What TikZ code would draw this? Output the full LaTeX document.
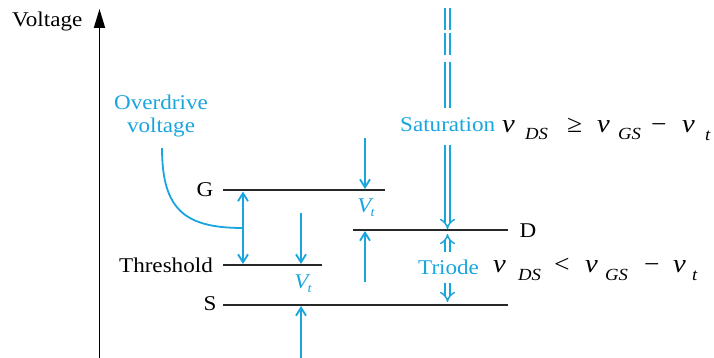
\documentclass[tikz,border=0pt]{standalone}
\usepackage{fontspec}
\setmainfont[FakeStretch=1.1]{Liberation Serif}
\usetikzlibrary{arrows.meta}
\definecolor{cy}{RGB}{25,165,222}
\definecolor{ln}{RGB}{40,40,40}
\begin{document}
\begin{tikzpicture}[x=1pt,y=-1pt,
  lbl/.style={font=\fontsize{21}{24}\selectfont, inner sep=0pt},
  clbl/.style={lbl, text=cy},
  lvl/.style={draw=ln, line width=1.7pt},
  barb/.tip={Straight Barb[length=8pt,width=10pt]},
  carr/.style={draw=cy, line width=1.8pt, -barb},
  dbl/.style={draw=cy, double=white, double distance=3.6pt, line width=1.5pt},
  dblarr/.style={dbl, -{Implies[length=5pt,width=13pt]}},
  fv/.style={font=\fontsize{26}{26}\selectfont\itshape, inner sep=0pt, anchor=base west},
  fs/.style={font=\fontsize{17}{17}\selectfont\itshape, inner sep=0pt, anchor=base west},
  fo/.style={font=\fontsize{25}{25}\selectfont, inner sep=0pt, anchor=base west},
  vt/.style={clbl, font=\fontsize{21}{24}\selectfont\itshape}]
\useasboundingbox (0,0) rectangle (714,358);
% axis
\coordinate (ax0) at (99.5,358);
\coordinate (ax1) at (99.5,9);
\draw[line width=1.8pt, -{Triangle[length=19pt,width=11pt]}] (ax0) -- (ax1);
\node[lbl, anchor=base west] (volt) at (12,27) {Voltage};
% levels
\coordinate (gL) at (223,190); \coordinate (gR) at (385,190);
\coordinate (tL) at (223,265); \coordinate (tR) at (322,265);
\coordinate (sL) at (223,305); \coordinate (sR) at (508,305);
\coordinate (dL) at (353,230); \coordinate (dR) at (508,230);
\draw[lvl] (gL) -- (gR);
\draw[lvl] (tL) -- (tR);
\draw[lvl] (sL) -- (sR);
\draw[lvl] (dL) -- (dR);
\node[lbl] (G) at (205,190) {G};
\node[lbl, anchor=east] (thr) at (213,265) {Threshold};
\node[lbl] (S) at (210,304) {S};
\node[lbl] (D) at (528,231) {D};
% overdrive
\node[clbl, anchor=base] (ov1) at (161,110) {Overdrive};
\node[clbl, anchor=base] (ov2) at (161,133) {voltage};
\coordinate (c0) at (162,148);
\coordinate (c1) at (243,228);
\draw[cy, line width=1.8pt] (c0) .. controls (162,210) and (185,228) .. (c1);
\coordinate (od1) at (243,191.5);
\coordinate (od2) at (243,264);
\draw[draw=cy, line width=1.8pt, barb-barb] (od1) -- (od2);
% Vt arrows left
\coordinate (a1s) at (301,213); \coordinate (a1e) at (301,264);
\coordinate (a2s) at (301,358); \coordinate (a2e) at (301,306);
\draw[carr] (a1s) -- (a1e);
\draw[carr] (a2s) -- (a2e);
\node[vt] (vt1) at (303,284) {V\kern-1pt\raisebox{-4pt}{\fontsize{13}{13}\selectfont t}};
% Vt arrows right
\coordinate (b1s) at (365,138); \coordinate (b1e) at (365,189);
\coordinate (b2s) at (365,282); \coordinate (b2e) at (365,231);
\draw[carr] (b1s) -- (b1e);
\draw[carr] (b2s) -- (b2e);
\node[vt] (vt2) at (366,208) {V\kern-1pt\raisebox{-4pt}{\fontsize{13}{13}\selectfont t}};
% saturation
\draw[dbl] (447.5,8) -- (447.5,30);
\draw[dbl] (447.5,33) -- (447.5,55);
\draw[dbl] (447.5,62) -- (447.5,108);
\coordinate (sat0) at (447.5,145);
\coordinate (sat1) at (447.5,229);
\draw[dblarr] (sat0) -- (sat1);
\node[clbl, anchor=base west] (sat) at (400,132) {Saturation};
% triode
\coordinate (tr0) at (447.5,252); \coordinate (tr1) at (447.5,234);
\coordinate (tr2) at (447.5,283); \coordinate (tr3) at (447.5,302);
\draw[dblarr] (tr0) -- (tr1);
\draw[dblarr] (tr2) -- (tr3);
\node[clbl, anchor=base west] (tri) at (418,274) {Triode};
% formula 1
\node[fv] (f1a) at (502,133) {v};
\node[fs] (f1b) at (525,140) {DS};
\node[fo] (f1c) at (567,133) {≥};
\node[fv] (f1d) at (597,133) {v};
\node[fs] (f1e) at (618,140) {GS};
\node[fo] (f1f) at (651,133) {−};
\node[fv] (f1g) at (682,133) {v};
\node[fs] (f1h) at (705,141) {t};
% formula 2
\node[fv] (f2a) at (493,272) {v};
\node[fs] (f2b) at (518,280) {DS};
\node[fo] (f2c) at (554,272) {<};
\node[fv] (f2d) at (585,272) {v};
\node[fs] (f2e) at (605,280) {GS};
\node[fo] (f2f) at (644,272) {−};
\node[fv] (f2g) at (673,272) {v};
\node[fs] (f2h) at (692,280) {t};
\end{tikzpicture}
\end{document}
